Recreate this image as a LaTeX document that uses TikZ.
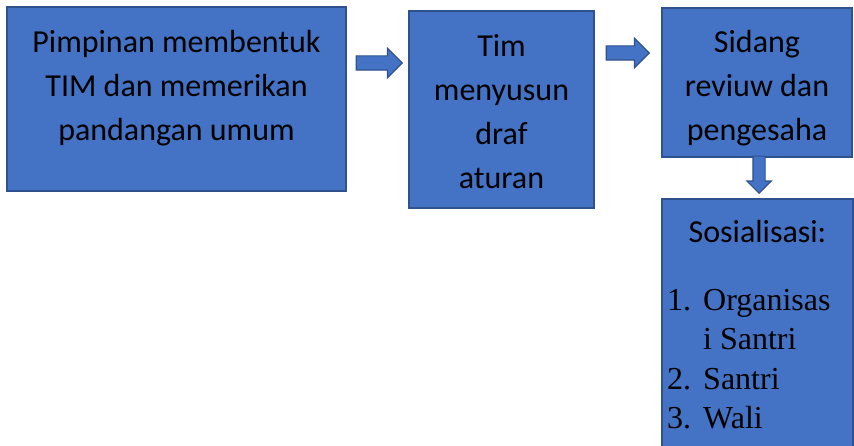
\documentclass[tikz,border=0pt]{standalone}
\usepackage{fontspec}
\setmainfont{Carlito}
\newfontfamily\listfont{Liberation Serif}
\usetikzlibrary{shapes.arrows}
\definecolor{boxblue}{HTML}{4472C4}
\definecolor{edgeblue}{HTML}{2F528F}
\tikzset{
  stepbox/.style={draw=edgeblue, fill=boxblue, line width=1.5pt, rectangle, inner sep=0pt},
  steptext/.style={font=\fontsize{32}{44}\selectfont, align=center, text=black, inner sep=0pt},
  listtext/.style={font=\listfont\fontsize{32}{39.5}\selectfont, align=left, text=black, inner sep=0pt},
  blockarrow/.style={single arrow, draw=edgeblue, fill=boxblue, line width=1.2pt,
    single arrow head indent=0pt, anchor=tip},
}
\begin{document}
\begin{tikzpicture}[x=1pt,y=-1pt]
  \useasboundingbox (0,0) rectangle (854,446);
  \clip (0,0) rectangle (854,446);
  % langkah-langkah
  \node[stepbox, minimum width=339pt, minimum height=184pt] (pimpinan) at (176.5,99) {};
  \node[stepbox, minimum width=185pt, minimum height=197pt] (tim) at (501.5,109.5) {};
  \node[stepbox, minimum width=190pt, minimum height=149pt] (sidang) at (757,82.5) {};
  \node[stepbox, minimum width=191pt, minimum height=270pt] (sosialisasi) at (757.5,334) {};
  % teks
  \node[steptext] (pimpinantxt) at (pimpinan.center |- 0,88) {Pimpinan membentuk\\TIM dan memerikan\\pandangan umum};
  \node[steptext] (timtxt) at (tim.center |- 0,112) {Tim\\menyusun\\draf\\aturan};
  \node[steptext] (sidangtxt) at (sidang.center |- 0,88) {Sidang\\reviuw dan\\pengesaha};
  \node[steptext] (sosialisasitxt) at (sosialisasi.center |- 0,232) {Sosialisasi:};
  \node[listtext, anchor=north west] (daftar) at (667,289)
    {\makebox[36pt][l]{1.}Organisas\\\hspace*{36pt}i Santri\\\makebox[36pt][l]{2.}Santri\\\makebox[36pt][l]{3.}Wali};
  % panah
  \node[blockarrow, inner sep=6.5pt, minimum height=46pt, single arrow head extend=7.5pt] (panah1) at (403,63) {};
  \node[blockarrow, inner sep=6.5pt, minimum height=43pt, single arrow head extend=7.5pt] (panah2) at (650,53) {};
  \node[blockarrow, inner sep=5.5pt, minimum height=37pt, single arrow head extend=6pt,
    shape border rotate=270] (panah3) at (759,194) {};
\end{tikzpicture}
\end{document}
